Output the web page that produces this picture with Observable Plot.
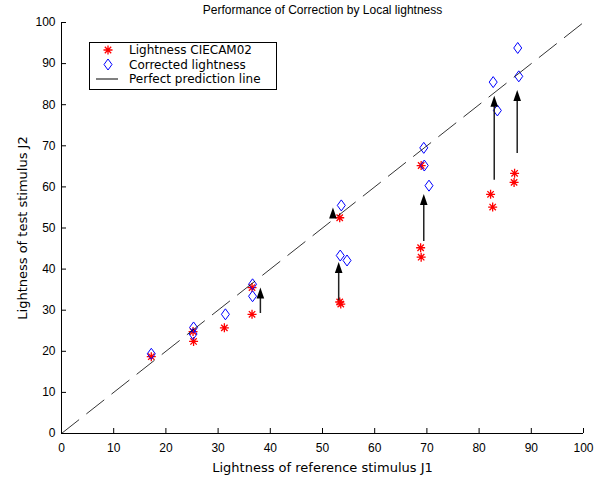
<!DOCTYPE html>
<html><head><meta charset="utf-8">
<script src="https://cdn.jsdelivr.net/npm/d3@7"></script>
<script src="https://cdn.jsdelivr.net/npm/@observablehq/plot@0.6"></script>
<style>
body{margin:0;background:#fff;}
#chart{width:607px;height:479px;}
</style>
</head><body><div id="chart"></div>
<script>
// ---- data ----
const titleText = "Performance of Correction by Local lightness";
const xLabel = "Lightness of reference stimulus J1";
const yLabel = "Lightness of test stimulus J2";
const ticks = [0, 10, 20, 30, 40, 50, 60, 70, 80, 90, 100];

// Lightness CIECAM02 (red stars)
const camJ1 = [17.2, 25.2, 25.3, 31.2, 36.5, 36.5, 53.3, 53.3, 53.5, 68.9, 68.8, 68.9, 82.2, 82.6, 86.8, 86.7];
const camJ2 = [18.7, 24.8, 22.4, 25.7, 35.5, 29.0, 52.5, 32.0, 31.5, 65.2, 45.2, 42.9, 58.2, 55.1, 63.3, 61.1];

// Corrected lightness (blue diamonds)
const corJ1 = [17.2, 25.3, 25.2, 31.4, 36.6, 36.6, 53.6, 53.4, 54.7, 69.4, 69.5, 70.4, 82.7, 83.5, 87.4, 87.6];
const corJ2 = [19.4, 25.8, 24.2, 29.0, 36.3, 33.4, 55.5, 43.3, 42.1, 69.5, 65.2, 60.3, 85.5, 78.6, 93.8, 86.9];

// arrows (x, from, to)
const arrowX    = [38.1, 52.0, 53.1, 69.4, 82.9, 87.3];
const arrowFrom = [29.2, 52.3, 32.3, 46.7, 61.6, 68.1];
const arrowTo   = [35.5, 55.0, 41.7, 58.3, 82.2, 83.6];

// perfect prediction line endpoints
const perfectLine = [0, 100];

// ---- tables ----
const cam = camJ1.map((x, i) => ({J1: x, J2: camJ2[i]}));
const cor = corJ1.map((x, i) => ({J1: x, J2: corJ2[i]}));
const arrows = arrowX.map((x, i) => ({x, from: arrowFrom[i], to: arrowTo[i]}));
const perfect = perfectLine.map(v => ({x: v, y: v}));

// ---- symbols ----
const starSym = {draw(ctx) {
  const r = 4.5, d = 3.2;
  ctx.moveTo(-r, 0); ctx.lineTo(r, 0);
  ctx.moveTo(0, -r); ctx.lineTo(0, r);
  ctx.moveTo(-d, -d); ctx.lineTo(d, d);
  ctx.moveTo(-d, d); ctx.lineTo(d, -d);
}};
const diamondSym = {draw(ctx) {
  ctx.moveTo(0, -5.5); ctx.lineTo(4, 0); ctx.lineTo(0, 5.5); ctx.lineTo(-4, 0); ctx.closePath();
}};
const headSym = {draw(ctx) {
  ctx.moveTo(0, 0); ctx.lineTo(3.8, 11); ctx.lineTo(-3.8, 11); ctx.closePath();
}};

const font = "'Liberation Sans', Arial, sans-serif";
const wideFont = "'DejaVu Sans', Verdana, sans-serif";

const chart = Plot.plot({
  width: 607, height: 479,
  marginLeft: 61, marginRight: 24, marginTop: 22, marginBottom: 46,
  style: {fontFamily: font, fontSize: "12px", color: "#000", background: "#fff", overflow: "visible"},
  x: {domain: [0, 100], ticks: ticks, tickSize: 0, tickPadding: 10, label: xLabel, labelAnchor: "center", labelOffset: 38, labelArrow: "none"},
  y: {domain: [0, 100], ticks: ticks, tickSize: 0, tickPadding: 6, label: yLabel, labelAnchor: "center", labelOffset: 44, labelArrow: "none"},
  marks: [
    Plot.ruleY([0], {stroke: "#000"}),
    Plot.ruleX([0], {stroke: "#000"}),
    Plot.ruleX(ticks, {x: d => d, y1: 0, y2: 0, insetBottom: 5, stroke: "#000"}),
    Plot.ruleY(ticks, {y: d => d, x1: 0, x2: 0, insetRight: -5, stroke: "#000"}),
    Plot.dot(cam, {x: "J1", y: "J2", symbol: starSym, stroke: "#ff0000", fill: "none", strokeWidth: 1.3}),
    Plot.dot(cor, {x: "J1", y: "J2", symbol: diamondSym, stroke: "#0000ff", fill: "none", strokeWidth: 1}),
    Plot.line(perfect, {x: "x", y: "y", stroke: "#000", strokeWidth: 0.8, strokeDasharray: "22,10"}),
    Plot.ruleX(arrows, {x: "x", y1: "to", y2: "from", insetTop: 5, stroke: "#222", strokeWidth: 1.5}),
    Plot.dot(arrows, {x: "x", y: "to", symbol: headSym, fill: "#000", stroke: "none"}),
    Plot.text([titleText], {frameAnchor: "top", lineAnchor: "middle", dy: -12, fontSize: 12, fill: "#000"})
  ]
});
document.getElementById("chart").appendChild(chart);

// axis labels in a wider face, like the original
d3.select(chart).selectAll("g[aria-label='x-axis label'], g[aria-label='y-axis label']")
  .attr("font-family", wideFont).attr("font-size", 13);
d3.select(chart).selectAll("g[aria-label='x-axis label'] text, g[aria-label='y-axis label'] text")
  .attr("font-family", wideFont).attr("font-size", 13);

// ---- legend (inside axes, upper left) ----
const svg = d3.select(chart);
const lg = svg.append("g").attr("font-family", wideFont).attr("font-size", 12).attr("text-anchor", "start");
lg.append("rect").attr("x", 89.5).attr("y", 42.5).attr("width", 187).attr("height", 47)
  .attr("fill", "#fff").attr("stroke", "#000");
const legendItems = ["Lightness CIECAM02", "Corrected lightness", "Perfect prediction line"];
const rowY = [50, 64.5, 79];
lg.append("path").attr("transform", `translate(108,${rowY[0]})`).attr("d", d3.symbol(starSym)())
  .attr("stroke", "#ff0000").attr("stroke-width", 1.3).attr("fill", "none");
lg.append("path").attr("transform", `translate(108,${rowY[1]})`).attr("d", d3.symbol(diamondSym)())
  .attr("stroke", "#0000ff").attr("fill", "none");
lg.append("line").attr("x1", 96).attr("x2", 118).attr("y1", rowY[2]).attr("y2", rowY[2]).attr("stroke", "#000");
legendItems.forEach((t, i) => {
  lg.append("text").attr("x", 129).attr("y", rowY[i]).attr("dy", "0.36em")
    .attr("fill", "#000").attr("text-anchor", "start").text(t);
});
</script>
</body></html>
